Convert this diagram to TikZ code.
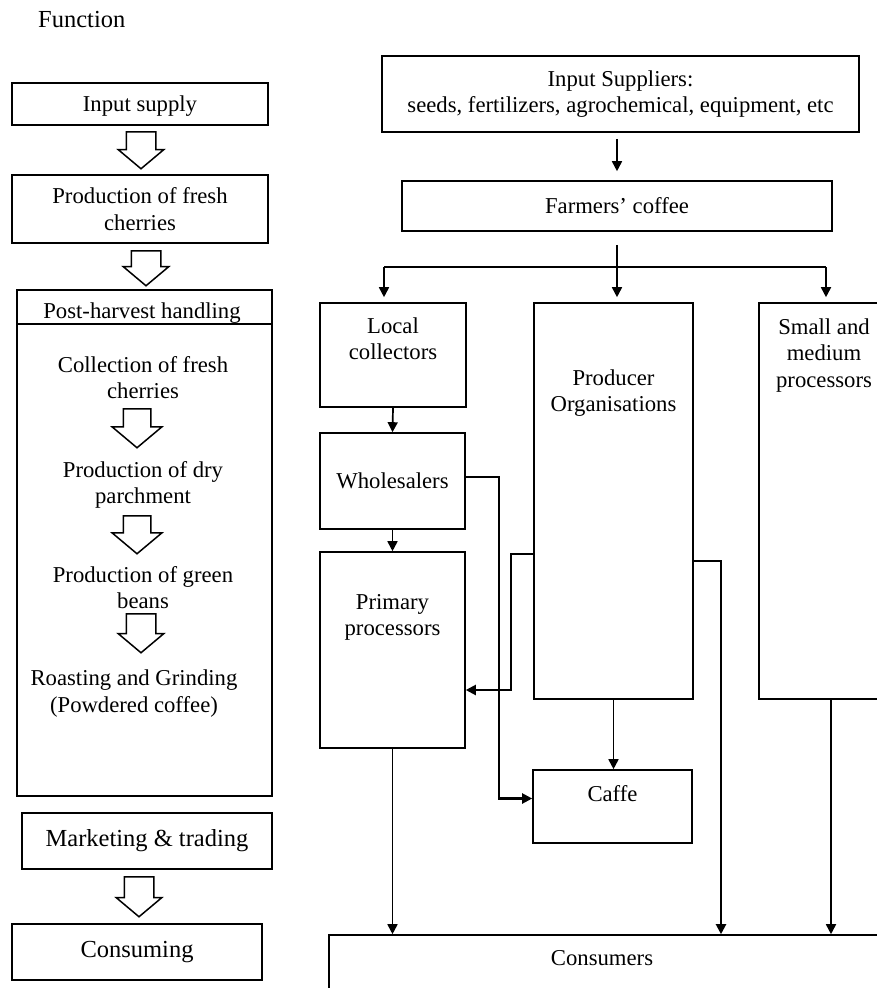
\documentclass[tikz,border=0pt]{standalone}
\usepackage{fontspec}
\setmainfont{Liberation Serif}
\usetikzlibrary{arrows.meta,positioning,shapes.arrows}

\begin{document}
\begin{tikzpicture}[
  x=1pt, y=-1pt,
  txt/.style={align=center, inner sep=0pt, font=\fontsize{22.7}{26.5}\selectfont},
  bigtxt/.style={txt, font=\fontsize{24.5}{26.5}\selectfont},
  fbox/.style={txt, draw, line width=1.6pt},
  actor/.style={txt, draw, line width=1.6pt},
  fstep/.style={single arrow, draw, line width=1.5pt, shape border rotate=270,
                minimum height=37pt, single arrow head extend=8pt,
                single arrow tip angle=100, inner xsep=14pt, inner ysep=0pt, anchor=tail},
  arr/.style={-{Triangle[length=10pt,width=10pt]}, line width=1.7pt},
  route/.style={arr, line width=2.1pt}
]
  \useasboundingbox (0,0) rectangle (877,988);
  \clip (0,0) rectangle (877,988);

  \node[bigtxt, anchor=base west] (func) at (38,27) {Function};
  \node[fbox, minimum width=256pt, minimum height=42pt, text depth=0pt] (insup) at (140,104) {Input supply};
  \node[fstep] (s1) at (141,131) {};
  \node[fbox, minimum width=256pt, minimum height=68pt] (fresh) at (140,209) {Production of fresh\\cherries};
  \node[fstep, minimum height=35pt] (s2) at (146,250) {};
  \node[fbox, minimum width=255pt, minimum height=506pt] (phbox) at (144.5,543) {};
  \node[txt, anchor=base] (phtitle) at (142,318) {Post-harvest handling};
  \node[txt, anchor=north] (collect) at (143,356) {Collection of fresh\\cherries};
  \node[fstep, minimum height=39pt, inner xsep=13pt, single arrow head extend=11pt] (s3) at (137,408) {};
  \node[txt, anchor=north] (parch) at (143,461) {Production of dry\\parchment};
  \node[fstep, minimum height=38pt, inner xsep=13pt, single arrow head extend=11pt] (s4) at (137,515) {};
  \node[txt, anchor=north] (green) at (143,566) {Production of green\\beans};
  \node[fstep, minimum height=39pt] (s5) at (141,613) {};
  \node[txt, anchor=north] (roast) at (134,670) {Roasting and Grinding\\(Powdered coffee)};
  \node[fbox, bigtxt, draw, line width=1.6pt, minimum width=250pt, minimum height=56pt] (market) at (147,841) {Marketing \& trading};
  \node[fstep, minimum height=40pt] (s6) at (139,876) {};
  \node[fbox, bigtxt, draw, line width=1.6pt, minimum width=250pt, minimum height=56pt] (consume) at (137,952) {Consuming};
  \draw[line width=1.6pt] ([yshift=-35pt]phbox.north west) -- ++(257,0);

  \node[actor, minimum width=477pt, minimum height=76pt] (insupp) at (620.5,94) {Input Suppliers:\\seeds, fertilizers, agrochemical, equipment, etc};
  \node[actor, minimum width=430pt, minimum height=50pt] (farm) at (617,206) {Farmers’ coffee};
  \node[actor, minimum width=146pt, minimum height=104pt] (lc) at (393,355) {};
  \node[txt, below=15pt of lc.north] (lctxt) {Local\\collectors};
  \node[actor, minimum width=145pt, minimum height=96pt] (whole) at (392.5,481) {Wholesalers};
  \node[actor, minimum width=145pt, minimum height=196pt] (prim) at (392.5,650) {};
  \node[txt, below=43pt of prim.north] (primtxt) {Primary\\processors};
  \node[actor, minimum width=159pt, minimum height=396pt] (po) at (613.5,501) {};
  \node[txt, below=67pt of po.north] (potxt) {Producer\\Organisations};
  \node[actor, minimum width=144pt, minimum height=396pt] (smp) at (831,501) {};
  \node[txt, below=16pt of smp.north, xshift=-7pt] (smptxt) {Small and\\medium\\processors};
  \node[actor, minimum width=159pt, minimum height=73pt] (caffe) at (612.5,806.5) {};
  \node[txt, below=16pt of caffe.north] (caffetxt) {Caffe};
  \node[actor, minimum width=570pt, minimum height=90pt] (cons) at (614,980) {};
  \node[txt, below=16pt of cons.north, xshift=-12pt] (constxt) {Consumers};
  \coordinate (barl) at (384,267);
  \coordinate (barr) at (826,267);

  \draw[arr, shorten <=6pt, shorten >=9pt] (insupp.south -| farm.north) -- (farm.north);
  \draw[arr, shorten <=13pt, shorten >=5pt] (farm.south) -- (farm.south |- po.north);
  \draw[route, -] (barl) -- (barr);
  \draw[arr, shorten >=5pt] (barl) -- (barl |- lc.north);
  \draw[arr, shorten >=5pt] (barr) -- (barr |- smp.north);
  \draw[arr] (lc.south) -- (whole.north);
  \draw[arr] (whole.south) -- (prim.north);
  \draw[route] ([yshift=4pt]whole.east) -- ++(33,0) |- ([yshift=8pt]caffe.west);
  \draw[route] ([yshift=-53pt]po.west) -- ++(-22,0) |- ([yshift=-40pt]prim.east);
  \draw[route] ([yshift=-60pt]po.east) -| ([xshift=107pt]cons.north);
  \draw[arr] (po.south) -- (po.south |- caffe.north);
  \draw[arr] (prim.south) -- (prim.south |- cons.north);
  \draw[arr] (smp.south) -- (smp.south |- cons.north);
\end{tikzpicture}
\end{document}
